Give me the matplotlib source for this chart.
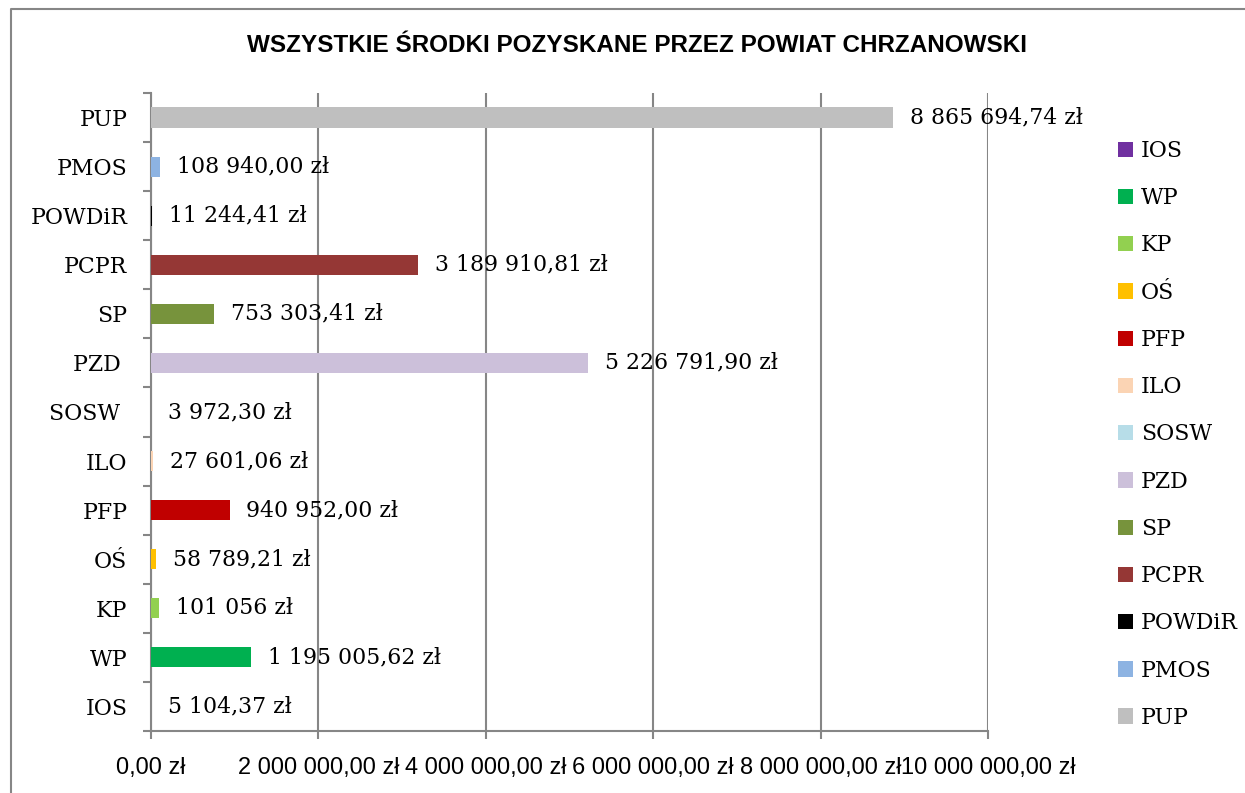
import matplotlib
matplotlib.use('Agg')
import matplotlib.pyplot as plt
from matplotlib.lines import Line2D
from matplotlib.ticker import MultipleLocator, FuncFormatter

# dane: kolejnosc od dolu (IOS) do gory (PUP)
kategorie = ['IOS', 'WP', 'KP', 'OŚ', 'PFP', 'ILO', 'SOSW ', 'PZD ', 'SP', 'PCPR', 'POWDiR', 'PMOS', 'PUP']
legenda = ['IOS', 'WP', 'KP', 'OŚ', 'PFP', 'ILO', 'SOSW', 'PZD', 'SP', 'PCPR', 'POWDiR', 'PMOS', 'PUP']
kwoty = [5104.37, 1195005.62, 101056, 58789.21, 940952.00, 27601.06, 3972.30,
         5226791.90, 753303.41, 3189910.81, 11244.41, 108940.00, 8865694.74]
etykiety = ['5 104,37 zł', '1 195 005,62 zł', '101 056 zł', '58 789,21 zł', '940 952,00 zł',
            '27 601,06 zł', '3 972,30 zł', '5 226 791,90 zł', '753 303,41 zł',
            '3 189 910,81 zł', '11 244,41 zł', '108 940,00 zł', '8 865 694,74 zł']
kolory = ['#7030A0', '#00B050', '#92D050', '#FFC000', '#C00000', '#FBD4B4', '#B7DDE8',
          '#CCC0DA', '#77933C', '#953735', '#000000', '#8DB3E2', '#BFBFBF']

serif = ['DejaVu Serif']
narrow = ['Liberation Sans Narrow', 'Liberation Sans', 'DejaVu Sans']
szary = '#868686'

fig = plt.figure(figsize=(12.45, 7.93), dpi=100)
# ramka wykresu - widac tylko lewa i gorna krawedz
fig.add_artist(Line2D([11/1245, 11/1245, 1.0], [0.0, 1-9/793, 1-9/793],
                      transform=fig.transFigure, color=szary, linewidth=1.5))
ax = fig.add_axes([151/1245, 1-731/793, 837/1245, 638/793])

for i in range(len(kwoty)):
    ax.barh(i, kwoty[i], height=0.41, color=kolory[i], label=legenda[i], zorder=3)
    ax.annotate(etykiety[i], (kwoty[i], i), xytext=(12, 0), textcoords='offset points',
                va='center', ha='left', fontsize=15.8, family=serif, zorder=4)

ax.set_xlim(0, 10000000)
ax.set_ylim(-0.5, len(kwoty)-0.5)
ax.xaxis.set_major_locator(MultipleLocator(2000000))
ax.xaxis.set_major_formatter(FuncFormatter(lambda v, p: '{:,.2f}'.format(v).replace(',', ' ').replace('.', ',') + ' zł'))
ax.grid(axis='x', color=szary, linewidth=1.5, zorder=0)

ax.set_yticks(range(len(kategorie)))
ax.set_yticklabels(kategorie, family=serif, fontsize=15.8)
ax.set_yticks([i-0.5 for i in range(len(kategorie)+1)], minor=True)
ax.tick_params(axis='y', which='major', length=0, pad=17)
ax.tick_params(axis='y', which='minor', length=6, width=1.5, color=szary, direction='out')
ax.tick_params(axis='x', length=6, width=1.5, color=szary, direction='out', pad=13)
for t in ax.get_xticklabels():
    t.set_family(narrow)
    t.set_fontsize(17)

for s in ['top', 'right']:
    ax.spines[s].set_visible(False)
for s in ['left', 'bottom']:
    ax.spines[s].set_color(szary)
    ax.spines[s].set_linewidth(1.5)

fig.text(0.512, 1-45/793, 'WSZYSTKIE ŚRODKI POZYSKANE PRZEZ POWIAT CHRZANOWSKI',
         ha='center', va='center', fontsize=17.5, fontweight='bold', family=narrow)

fig.legend(loc='upper left', bbox_to_anchor=(1118/1245, 1-140/793), frameon=False,
           prop={'family': serif, 'size': 15.8}, handlelength=0.7, handleheight=0.7,
           handletextpad=0.35, labelspacing=1.15, borderpad=0, borderaxespad=0)

plt.savefig('out.png', dpi=100)
